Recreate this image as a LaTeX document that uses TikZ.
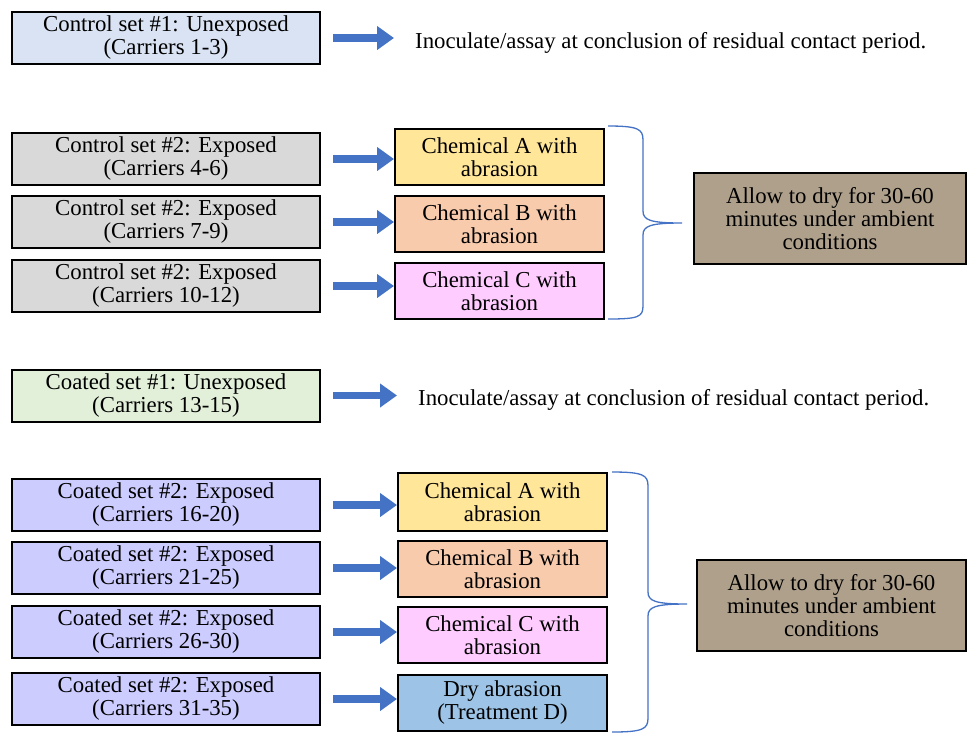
\documentclass[tikz,border=0pt]{standalone}
\usepackage{fontspec}
\setmainfont{Liberation Serif}
\usetikzlibrary{positioning, arrows.meta}
\definecolor{ctlblue}{HTML}{DAE3F3}
\definecolor{ctlgray}{HTML}{D9D9D9}
\definecolor{coatgreen}{HTML}{E2F0D9}
\definecolor{coatlav}{HTML}{CCCCFF}
\definecolor{chemyellow}{HTML}{FFE699}
\definecolor{chemorange}{HTML}{F8CBAD}
\definecolor{chempink}{HTML}{FFCCFF}
\definecolor{dryblue}{HTML}{9DC3E6}
\definecolor{drytan}{HTML}{AFA08B}
\definecolor{arrowblue}{HTML}{4472C4}
\tikzset{
	setbox/.style = {rectangle, draw=black, line width=2pt, minimum width=308pt, minimum height=52pt, inner sep=0pt, align=center, font=\rmfamily\fontsize{22.8}{23}\selectfont},
	chembox/.style = {rectangle, draw=black, line width=2pt, minimum width=209pt, minimum height=56pt, inner sep=0pt, align=center, font=\rmfamily\fontsize{22.8}{23}\selectfont},
	drybox/.style = {rectangle, draw=black, line width=2pt, fill=drytan, minimum height=91pt, inner sep=0pt, align=center, font=\rmfamily\fontsize{22.8}{23}\selectfont},
	note/.style = {inner sep=0pt, anchor=west, font=\rmfamily\fontsize{22.8}{23}\selectfont},
	arrow/.style = {-{Triangle[length=17pt, width=23pt]}, line width=7.5pt, draw=arrowblue, shorten <=12pt},
	bracket/.style = {draw=arrowblue, line width=1.3pt}
}
\begin{document}
\begin{tikzpicture}[x=1pt, y=-1pt]
		\useasboundingbox (0,0) rectangle (968,732);
		
		% Control set 1
		\node (ctl1) [setbox, fill=ctlblue] at (166,38) {Control set \#1: Unexposed\\(Carriers 1-3)};
		\node (inoc1) [note] at (415,43) {Inoculate/assay at conclusion of residual contact period.};
		
		% Control set 2
		\node (ctl2a) [setbox, fill=ctlgray] at (166,159) {Control set \#2: Exposed\\(Carriers 4-6)};
		\node (ctl2b) [setbox, fill=ctlgray] at (166,222) {Control set \#2: Exposed\\(Carriers 7-9)};
		\node (ctl2c) [setbox, fill=ctlgray] at (166,286) {Control set \#2: Exposed\\(Carriers 10-12)};
		\node (ctlchemA) [chembox, fill=chemyellow] at (499.5,157) {Chemical A with\\abrasion};
		\node (ctlchemB) [chembox, fill=chemorange] at (499.5,224) {Chemical B with\\abrasion};
		\node (ctlchemC) [chembox, fill=chempink] at (499.5,291) {Chemical C with\\abrasion};
		\node (ctldry) [drybox, minimum width=272pt] at (830,218.5) {Allow to dry for 30-60\\minutes under ambient\\conditions};
		
		% Coated set 1
		\node (coat1) [setbox, fill=coatgreen] at (166,395.5) {Coated set \#1: Unexposed\\(Carriers 13-15)};
		\node (inoc2) [note] at (418,400) {Inoculate/assay at conclusion of residual contact period.};
		
		% Coated set 2
		\node (coat2a) [setbox, fill=coatlav] at (166,505) {Coated set \#2: Exposed\\(Carriers 16-20)};
		\node (coat2b) [setbox, fill=coatlav] at (166,568) {Coated set \#2: Exposed\\(Carriers 21-25)};
		\node (coat2c) [setbox, fill=coatlav] at (166,632) {Coated set \#2: Exposed\\(Carriers 26-30)};
		\node (coat2d) [setbox, fill=coatlav] at (166,699) {Coated set \#2: Exposed\\(Carriers 31-35)};
		\node (coatchemA) [chembox, fill=chemyellow, minimum height=58pt] at (502.5,502) {Chemical A with\\abrasion};
		\node (coatchemB) [chembox, fill=chemorange] at (502.5,569) {Chemical B with\\abrasion};
		\node (coatchemC) [chembox, fill=chempink] at (502.5,635) {Chemical C with\\abrasion};
		\node (coatdryD) [chembox, fill=dryblue] at (502.5,703) {Dry abrasion\\(Treatment D)};
		\node (coatdry) [drybox, minimum width=269pt] at (831.5,605.5) {Allow to dry for 30-60\\minutes under ambient\\conditions};
		
		% Arrows
		\draw [arrow, shorten >=21pt] (ctl1.east) -- (ctl1.east -| inoc1.west);
		\draw [arrow] (ctl2a.east) -- (ctl2a.east -| ctlchemA.west);
		\draw [arrow] (ctl2b.east) -- (ctl2b.east -| ctlchemB.west);
		\draw [arrow] (ctl2c.east) -- (ctl2c.east -| ctlchemC.west);
		\draw [arrow, shorten >=21pt] (coat1.east) -- (coat1.east -| inoc2.west);
		\draw [arrow] (coat2a.east) -- (coat2a.east -| coatchemA.west);
		\draw [arrow] (coat2b.east) -- (coat2b.east -| coatchemB.west);
		\draw [arrow] (coat2c.east) -- (coat2c.east -| coatchemC.west);
		\draw [arrow] (coat2d.east) -- (coat2d.east -| coatdryD.west);
		
		% Braces
		\draw [bracket] (608,126) .. controls (638,126) and (643,129) .. (643,140) -- (643,211)
			.. controls (643,220) and (650,223) .. (682,223)
			.. controls (650,223) and (643,226) .. (643,235) -- (643,306)
			.. controls (643,317) and (638,319) .. (608,319);
		\draw [bracket] (612,472) .. controls (643,472) and (648,475) .. (648,486) -- (648,592)
			.. controls (648,601) and (655,604) .. (687,604)
			.. controls (655,604) and (648,607) .. (648,616) -- (648,718)
			.. controls (648,729) and (643,732) .. (612,732);
		
\end{tikzpicture}
\end{document}
